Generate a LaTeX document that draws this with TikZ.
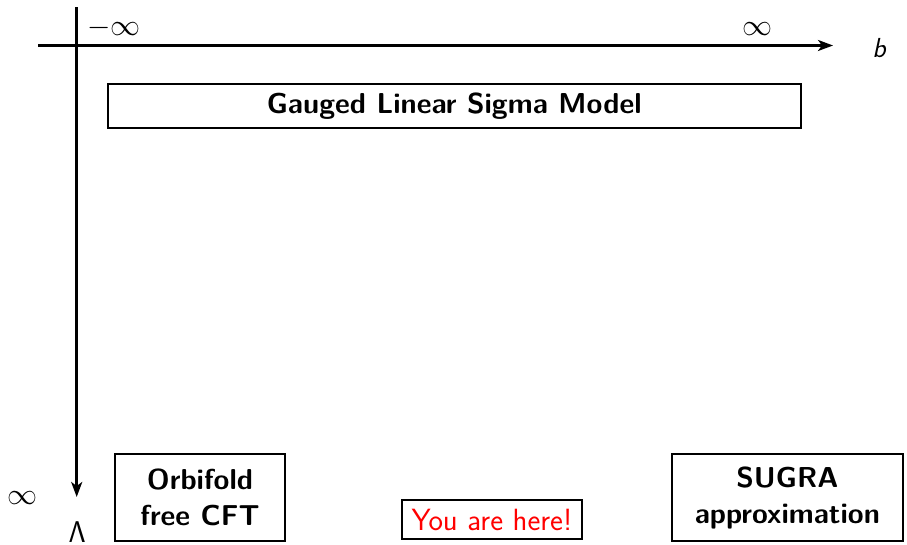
\documentclass[tikz,border=0pt]{standalone}
\usepackage{fix-cm}
\usetikzlibrary{arrows.meta}
\begin{document}
\begin{tikzpicture}[x=1pt,y=1pt,
  axis/.style={line width=2.5pt,-{Stealth[length=15pt,width=11pt,inset=4pt]}},
  boxnode/.style={draw,line width=2pt,inner sep=0pt,align=center,font=\fontsize{28.8}{36}\selectfont\sffamily\bfseries},
  inflabel/.style={inner sep=0pt,font=\fontsize{30}{36}\selectfont}
]
\useasboundingbox (0,0) rectangle (907,544);
\coordinate (hstart) at (38,498.5);
\coordinate (hend) at (833,498.5);
\coordinate (vstart) at (76.7,536.7);
\coordinate (vend) at (76.7,47);
\draw[axis] (hstart) -- (hend);
\draw[axis] (vstart) -- (vend);
\node[inflabel] (minf) at (114,516) {$-\infty$};
\node[inflabel] (pinf) at (757,515) {$\infty$};
\node[inner sep=0pt,font=\fontsize{27.5}{32}\selectfont\sffamily\itshape] (blab) at (879,496) {b};
\node[inflabel] (linf) at (22.5,46) {$\infty$};
\node[inflabel,anchor=north] (lam) at (77.3,22.3) {$\mathsf{\Lambda}$};
\node[boxnode,minimum width=693.5pt,minimum height=43.2pt] (glsm) at (454.25,438) {Gauged Linear Sigma Model};
\node[boxnode,minimum width=170pt,minimum height=87pt] (orb) at (200,46.5) {Orbifold\\free CFT};
\node[boxnode,minimum width=231.5pt,minimum height=87pt] (sugra) at (787.4,46.5) {SUGRA\\approximation};
\node[draw,line width=2pt,inner sep=0pt,minimum width=180pt,minimum height=39pt,text=red,font=\fontsize{30.7}{36}\selectfont\sffamily] (here) at (492,24.5) {You are here!};
\end{tikzpicture}
\end{document}
